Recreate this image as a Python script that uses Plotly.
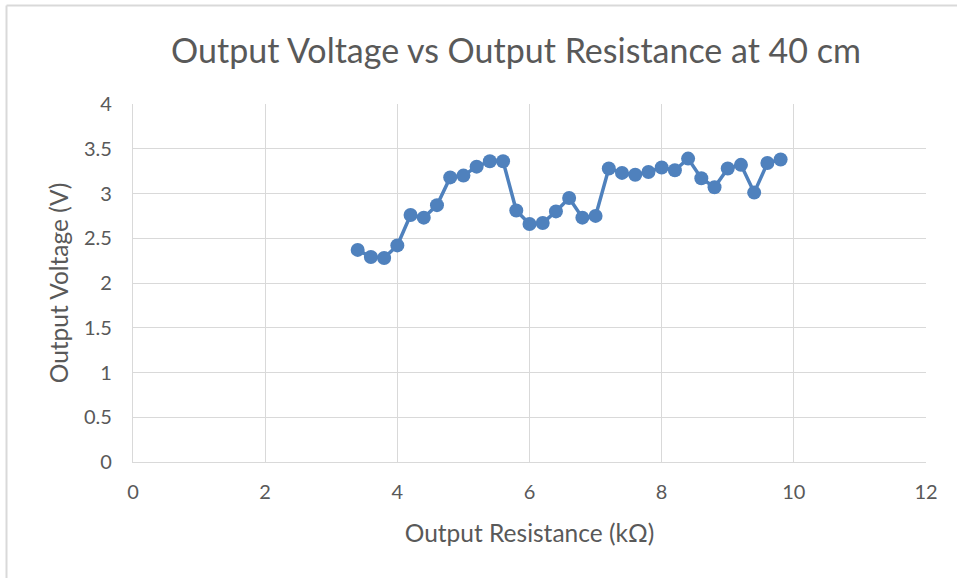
import plotly.graph_objects as go

resistance_kohm = [3.4, 3.6, 3.8, 4.0, 4.2, 4.4, 4.6, 4.8, 5.0, 5.2, 5.4, 5.6, 5.8, 6.0, 6.2, 6.4, 6.6,
                   6.8, 7.0, 7.2, 7.4, 7.6, 7.8, 8.0, 8.2, 8.4, 8.6, 8.8, 9.0, 9.2, 9.4, 9.6, 9.8]
voltage_v = [2.37, 2.29, 2.28, 2.42, 2.76, 2.73, 2.87, 3.18, 3.20, 3.30, 3.36, 3.36, 2.81, 2.66, 2.67,
             2.80, 2.95, 2.73, 2.75, 3.28, 3.23, 3.21, 3.24, 3.29, 3.26, 3.39, 3.17, 3.07, 3.28, 3.32,
             3.01, 3.34, 3.38]
x_ticks = [0, 2, 4, 6, 8, 10, 12]
y_ticks = [0, 0.5, 1, 1.5, 2, 2.5, 3, 3.5, 4]
y_tick_text = ["0", "0.5", "1", "1.5", "2", "2.5", "3", "3.5", "4"]

FONT = "Lato, Calibri, Carlito, sans-serif"
GRID = "#d9d9d9"
TXT = "#595959"

fig = go.Figure(go.Scatter(
    x=resistance_kohm, y=voltage_v, mode="lines+markers",
    line=dict(color="#4f81bd", width=3.5),
    marker=dict(color="#4f81bd", size=14),
    showlegend=False,
))

fig.update_layout(
    width=957, height=578,
    margin=dict(l=133, r=31, t=104, b=116),
    paper_bgcolor="white", plot_bgcolor="white",
    font=dict(family=FONT, color=TXT, size=20),
    title=dict(text="Output Voltage vs Output Resistance at 40 cm", x=0.483, xref="paper",
               xanchor="center", y=0.912, yanchor="middle",
               font=dict(size=34, color=TXT, family=FONT)),
    xaxis=dict(range=[0, 12], tickvals=x_ticks, ticktext=[str(v) for v in x_ticks],
               showgrid=True, gridcolor=GRID, gridwidth=1.3, zeroline=False,
               showline=True, linecolor=GRID, linewidth=1.3, ticks="",
               ticklabelstandoff=12,
               tickfont=dict(size=20, color=TXT),
               title=dict(text="Output Resistance (kΩ)", font=dict(size=24.5, color=TXT), standoff=22)),
    yaxis=dict(range=[0, 4], tickvals=y_ticks, ticktext=y_tick_text,
               showgrid=True, gridcolor=GRID, gridwidth=1.3, zeroline=False,
               showline=True, linecolor=GRID, linewidth=1.3, ticks="",
               ticklabelstandoff=16,
               tickfont=dict(size=20, color=TXT),
               title=dict(text="Output Voltage (V)", font=dict(size=24.5, color=TXT), standoff=8)),
)

# chart border (left and top edges visible)
fig.add_shape(type="line", xref="paper", yref="paper",
              x0=(6.5 - 133) / 793, x1=(6.5 - 133) / 793, y0=(462 - 5.5) / 358, y1=(462 - 590) / 358,
              line=dict(color=GRID, width=2))
fig.add_shape(type="line", xref="paper", yref="paper",
              x0=(6.5 - 133) / 793, x1=(970 - 133) / 793, y0=(462 - 5.5) / 358, y1=(462 - 5.5) / 358,
              line=dict(color=GRID, width=2))

fig.write_html("out.html", config={"displayModeBar": False},
               post_script="document.body.style.margin='0';")
